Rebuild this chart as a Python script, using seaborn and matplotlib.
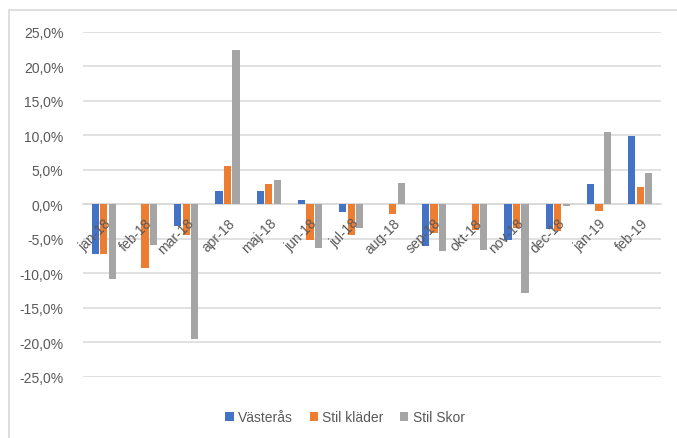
import matplotlib
matplotlib.use("Agg")
import matplotlib.pyplot as plt
import seaborn as sns
import pandas as pd
from matplotlib.ticker import FuncFormatter, FixedLocator
from matplotlib.patches import Rectangle

months = ["jan-18", "feb-18", "mar-18", "apr-18", "maj-18", "jun-18", "jul-18",
          "aug-18", "sep-18", "okt-18", "nov-18", "dec-18", "jan-19", "feb-19"]
series_names = ["Västerås", "Stil kläder", "Stil Skor"]
vasteras = [-7.2, 0.0, -3.2, 1.9, 1.9, 0.7, -1.1, 0.0, -6.1, 0.0, -5.1, -3.6, 2.9, 9.9]
stil_klader = [-7.2, -9.3, -4.5, 5.6, 2.9, -5.2, -4.4, -1.4, -4.1, -3.7, -3.4, -3.9, -1.0, 2.5]
stil_skor = [-10.8, -5.9, -19.6, 22.4, 3.6, -6.3, -3.5, 3.1, -6.8, -6.6, -12.9, -0.3, 10.5, 4.6]
yticks = [-25, -20, -15, -10, -5, 0, 5, 10, 15, 20, 25]
colors = ["#4472C4", "#ED7D31", "#A5A5A5"]

rows = []
for name, vals in zip(series_names, [vasteras, stil_klader, stil_skor]):
    for m, v in zip(months, vals):
        rows.append({"month": m, "series": name, "value": v})
df = pd.DataFrame(rows)

sns.set_style("white")
plt.rcParams["font.family"] = ["Liberation Sans", "DejaVu Sans"]

fig = plt.figure(figsize=(6.77, 4.39), dpi=100)
ax = fig.add_axes([83 / 677, 1 - 377.7 / 439, (661 - 83) / 677, (377.7 - 33) / 439])

for t in yticks:
    ax.axhline(t, color="#D9D9D9", lw=1.1, zorder=0)

sns.barplot(data=df, x="month", y="value", hue="series", order=months,
            hue_order=series_names, palette=colors, width=0.62, gap=0.16,
            edgecolor="none", saturation=1, ax=ax, legend=True, zorder=1)

ax.set_ylim(-25, 25)
ax.set_xlim(-0.5, len(months) - 0.5)
ax.set_yticks(yticks)
ax.yaxis.set_major_formatter(FuncFormatter(lambda v, p: f"{v:.1f}%".replace(".", ",")))
ax.grid(False)
ax.set_axisbelow(False)
for s in ["top", "right", "left"]:
    ax.spines[s].set_visible(False)
ax.spines["bottom"].set_position(("data", 0))
ax.spines["bottom"].set_color("#D9D9D9")
ax.spines["bottom"].set_linewidth(1.1)
ax.spines["bottom"].set_zorder(0.5)

ax.set_xlabel("")
ax.set_ylabel("")
ax.set_xticks(range(len(months)))
ax.set_xticklabels(months, rotation=45, ha="right", rotation_mode="anchor")
ax.xaxis.set_minor_locator(FixedLocator([i - 0.5 for i in range(len(months) + 1)]))
ax.tick_params(axis="x", which="major", length=0, pad=8, labelsize=10, labelcolor="#595959")
ax.tick_params(axis="x", which="minor", length=5, width=1, color="#D9D9D9", direction="out")
ax.tick_params(axis="y", length=0, pad=14, labelsize=10, labelcolor="#595959")

handles, labels = ax.get_legend_handles_labels()
ax.legend_.remove()
fig.legend(handles, labels, loc="center", bbox_to_anchor=(345 / 677, 1 - 418 / 439),
           ncol=3, frameon=False, fontsize=10, handlelength=0.6, handleheight=0.6,
           handletextpad=0.3, columnspacing=1.2, labelcolor="#595959")

fig.patches.append(Rectangle((9 / 677, -0.1), 1.2, 1 - 11 / 439 + 0.1,
                             transform=fig.transFigure, fill=False,
                             edgecolor="#D9D9D9", lw=1.2))

fig.savefig("out.png", dpi=100)
